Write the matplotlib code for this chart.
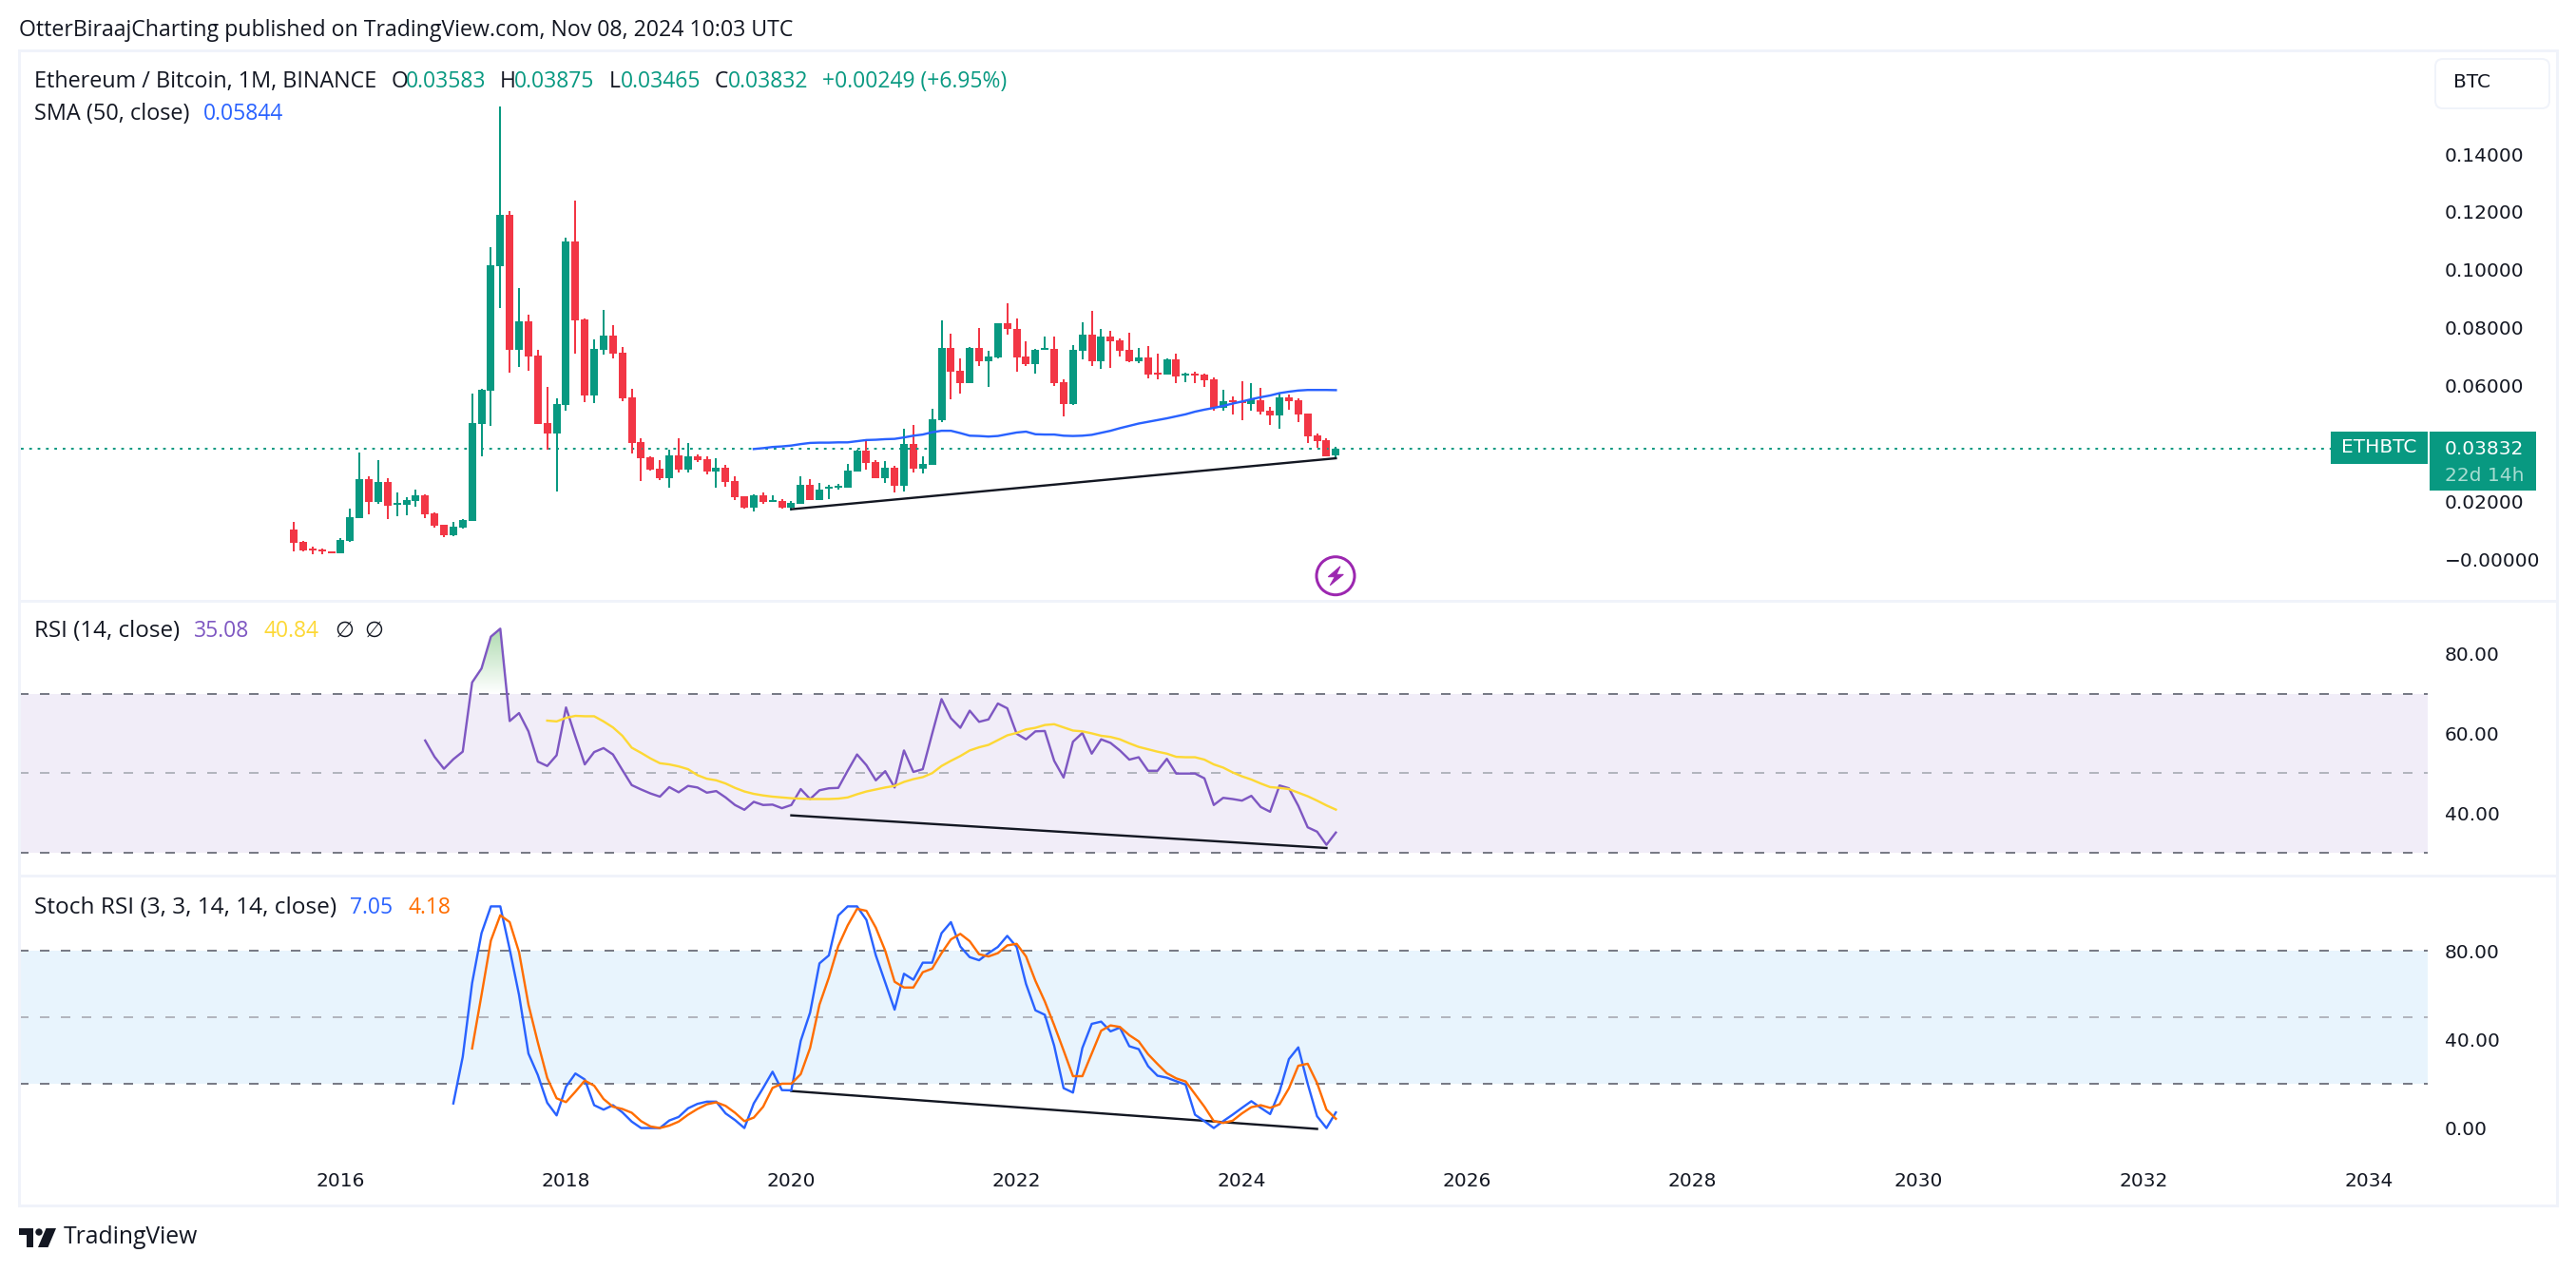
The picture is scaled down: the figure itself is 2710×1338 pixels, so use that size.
import matplotlib
matplotlib.use('Agg')
import matplotlib.pyplot as plt
from matplotlib.patches import Rectangle, FancyBboxPatch, Circle, Polygon
import numpy as np

plt.rcParams['font.family'] = ['Open Sans', 'DejaVu Sans']

# monthly candles, first one is 2015-08
opens = [.0103,.0060,.0038,.0034,.0027,.0022,.0063,.0143,.0277,.0198,
         .0267,.0189,.0189,.0203,.0221,.0159,.0119,.0083,.0109,.0134,
         .0469,.0583,.1013,.1190,.0724,.0822,.0704,.0471,.0435,.0533,
         .1098,.0829,.0566,.0724,.0773,.0714,.0559,.0405,.0352,.0313,
         .0280,.0359,.0310,.0356,.0346,.0303,.0316,.0270,.0218,.0178,
         .0221,.0198,.0201,.0178,.0192,.0257,.0205,.0244,.0247,.0247,
         .0303,.0375,.0336,.0280,.0316,.0254,.0398,.0313,.0326,.0481,
         .0730,.0651,.0609,.0730,.0684,.0697,.0816,.0796,.0701,.0674,
         .0724,.0727,.0612,.0536,.0720,.0776,.0684,.0770,.0756,.0724,
         .0684,.0697,.0645,.0638,.0691,.0635,.0642,.0638,.0622,.0523,
         .0550,.0546,.0536,.0550,.0513,.0497,.0559,.0550,.0504,.0428,
         .0412,.03583]
highs = [.0128,.0063,.0043,.0037,.0027,.0073,.0175,.0369,.0287,.0343,
         .0280,.0231,.0213,.0241,.0224,.0162,.0119,.0129,.0139,.0573,
         .0589,.1078,.1563,.1202,.0937,.0845,.0724,.0596,.0556,.1111,
         .1239,.0832,.0760,.0862,.0809,.0733,.0589,.0418,.0356,.0343,
         .0379,.0418,.0402,.0362,.0356,.0349,.0326,.0287,.0218,.0224,
         .0231,.0221,.0208,.0201,.0287,.0277,.0264,.0257,.0261,.0330,
         .0379,.0408,.0343,.0339,.0323,.0451,.0464,.0356,.0520,.0825,
         .0779,.0694,.0733,.0799,.0720,.0816,.0885,.0832,.0753,.0727,
         .0770,.0770,.0622,.0740,.0819,.0858,.0796,.0789,.0763,.0783,
         .0730,.0737,.0710,.0694,.0710,.0645,.0648,.0642,.0628,.0586,
         .0563,.0615,.0609,.0592,.0527,.0576,.0569,.0556,.0504,.0435,
         .0418,.03875]
lows = [.0027,.0027,.0019,.0019,.0022,.0022,.0060,.0143,.0155,.0192,
        .0140,.0149,.0153,.0183,.0143,.0111,.0077,.0080,.0107,.0134,
        .0356,.0461,.0868,.0645,.0664,.0651,.0467,.0379,.0234,.0513,
        .0710,.0543,.0540,.0707,.0694,.0546,.0366,.0270,.0307,.0274,
        .0247,.0300,.0300,.0336,.0293,.0247,.0251,.0205,.0175,.0165,
        .0192,.0198,.0175,.0170,.0192,.0205,.0205,.0208,.0241,.0247,
        .0303,.0310,.0280,.0264,.0231,.0234,.0300,.0297,.0326,.0474,
        .0553,.0573,.0609,.0668,.0596,.0694,.0776,.0648,.0668,.0642,
        .0724,.0599,.0494,.0533,.0691,.0668,.0658,.0661,.0701,.0681,
        .0678,.0625,.0622,.0638,.0609,.0612,.0609,.0596,.0513,.0513,
        .0500,.0481,.0513,.0500,.0464,.0451,.0517,.0474,.0402,.0385,
        .0356,.03465]
closes = [.0058,.0031,.0031,.0028,.0022,.0067,.0146,.0277,.0199,.0267,
          .0186,.0195,.0205,.0221,.0155,.0117,.0083,.0113,.0136,.0471,
          .0586,.1016,.1190,.0724,.0822,.0701,.0467,.0435,.0536,.1098,
          .0825,.0566,.0727,.0773,.0710,.0556,.0402,.0349,.0310,.0280,
          .0359,.0310,.0356,.0343,.0303,.0316,.0267,.0215,.0178,.0221,
          .0198,.0205,.0178,.0195,.0257,.0205,.0241,.0251,.0254,.0307,
          .0375,.0333,.0280,.0316,.0254,.0398,.0313,.0330,.0484,.0730,
          .0648,.0609,.0730,.0684,.0701,.0816,.0796,.0697,.0674,.0724,
          .0730,.0609,.0536,.0724,.0776,.0684,.0770,.0753,.0720,.0684,
          .0697,.0638,.0638,.0691,.0632,.0642,.0635,.0619,.0523,.0546,
          .0543,.0540,.0553,.0510,.0497,.0559,.0546,.0500,.0425,.0408,
          .0356,.03832]

sma_start = 49
sma = [.0381,.0384,.0388,.0390,.0393,.0398,.0402,.0403,.0403,.0404,
       .0404,.0408,.0412,.0413,.0415,.0416,.0421,.0427,.0431,.0439,
       .0444,.0444,.0436,.0427,.0426,.0424,.0426,.0432,.0438,.0441,
       .0432,.0431,.0431,.0427,.0426,.0427,.0430,.0437,.0444,.0453,
       .0461,.0469,.0475,.0481,.0487,.0494,.0501,.0510,.0517,.0523,
       .0530,.0538,.0545,.0553,.0560,.0566,.0574,.0579,.0583,.0585,
       .0585,.0585,.05844]

rsi_start = 14
rsi = [58.2,54.1,51.1,53.5,55.4,72.8,76.3,84.3,86.3,63.1,
       65.1,60.5,52.9,51.8,54.5,66.5,59.2,52.2,55.3,56.3,
       54.7,50.8,47.0,45.9,44.9,44.1,46.5,45.2,46.8,46.4,
       45.1,45.5,43.9,42.0,40.8,42.8,42.0,42.1,41.2,42.0,
       46.0,43.5,45.7,46.2,46.3,50.6,54.7,52.0,48.2,50.5,
       46.4,55.7,50.3,51.0,59.9,68.6,63.8,61.4,65.7,
       62.9,63.5,67.5,66.3,59.9,58.5,60.5,60.6,53.1,48.9,
       57.9,60.1,54.9,58.5,57.6,55.7,53.4,54.0,50.6,50.6,
       53.6,49.9,49.9,49.9,48.7,42.0,43.8,43.5,43.1,44.3,
       41.5,40.3,46.9,46.2,41.8,36.4,35.3,32.0,35.08]

rsi_ma_start = 27
rsi_ma = [63.2,63.0,63.9,64.4,64.3,64.3,63.0,61.5,59.4,56.4,
          55.1,53.7,52.5,52.2,51.7,51.0,49.5,48.6,48.2,47.4,
          46.3,45.4,44.8,44.4,44.1,43.9,43.7,43.6,43.5,43.5,
          43.5,43.6,43.9,44.7,45.4,45.9,46.4,46.8,47.8,48.5,
          49.0,50.0,51.8,53.1,54.3,55.7,
          56.5,57.1,58.3,59.5,60.1,61.0,61.4,62.1,62.3,61.5,
          60.7,60.5,60.0,59.4,59.1,58.5,57.5,56.6,56.0,55.4,
          54.9,54.1,54.0,54.0,53.4,52.2,51.4,50.2,49.2,48.4,
          47.4,46.5,46.3,46.0,45.1,44.2,43.1,41.9,40.84]

stoch_k_start = 17
stoch_k = [11.1,32.1,65.4,87.9,100,100,80.7,60.0,33.6,23.9,
           11.4,5.7,18.6,24.6,21.9,10.3,8.3,10.3,7.1,2.9,
           0,0,0,3.4,5.0,8.9,10.9,11.9,11.9,6.6,
           3.6,0,11.1,18.1,25.4,17.1,17.0,39.3,52.1,74.3,
           77.9,95.9,100,100,93.9,77.9,65.7,53.4,69.6,66.9,
           74.6,74.6,87.9,92.9,81.9,77.1,
           75.7,78.9,81.7,86.7,81.7,65.0,53.1,51.1,37.1,18.0,
           16.0,36.1,47.0,48.0,43.6,45.3,36.9,35.6,27.9,23.6,
           22.7,21.1,19.6,6.0,3.1,0,3.1,6.0,9.1,12.1,
           9.1,6.3,16.4,31.1,36.4,20.0,5.3,0,7.05]

stoch_d_start = 19
stoch_d = [35.9,60.0,84.6,96.0,92.9,79.3,55.7,38.6,22.6,13.4,
           11.7,16.4,21.4,19.1,13.1,9.6,8.6,6.9,3.1,0.7,
           0,1.1,2.9,6.0,8.6,10.7,11.6,10.0,6.9,3.1,
           4.7,9.6,18.1,20.0,20.0,24.3,36.1,55.7,67.9,82.1,
           91.4,98.9,98.0,90.4,80.0,66.0,63.4,63.4,70.3,71.9,
           78.9,85.1,87.6,84.3,
           78.4,77.4,78.9,82.4,83.1,77.4,66.4,57.1,46.4,35.0,
           23.4,23.4,33.6,43.9,46.3,45.6,41.9,39.1,33.3,28.9,
           24.7,22.4,21.0,15.3,9.6,3.1,2.3,3.3,6.6,9.4,
           10.3,9.1,10.7,17.9,28.1,29.0,20.3,8.3,4.18]

# drawn trend lines: (month index, value) at both ends
price_trend = ([53, 111], [.0173, .0349])
rsi_trend = ([53, 110], [39.4, 31.2])
stoch_trend = ([53, 109], [16.7, -0.4])

years = [2016, 2018, 2020, 2022, 2024, 2026, 2028, 2030, 2032, 2034]
price_ticks = [0.14, 0.12, 0.10, 0.08, 0.06, 0.02, 0.0]
rsi_ticks = [80, 60, 40]
stoch_ticks = [80, 40, 0]

GREEN = '#089981'
RED = '#F23645'
BLUE = '#2962FF'
PURPLE = '#7E57C2'
YELLOW = '#FDD835'
ORANGE = '#FF6D00'
DARK = '#131722'
BORDER = '#F0F3FA'
AXIS_FONT = 'DejaVu Sans'

W, H = 2710, 1338
PX = 0.72  # one pixel in points at dpi 100
LINE = 2.4 * PX
LEFT, RIGHT = 22, 2554


def panel(top, bottom, ylim):
    ax = fig.add_axes([LEFT / W, 1 - bottom / H, (RIGHT - LEFT) / W, (bottom - top) / H])
    ax.set_xlim(-29.06, 227.3)
    ax.set_ylim(*ylim)
    for s in ax.spines.values():
        s.set_visible(False)
    ax.yaxis.tick_right()
    ax.tick_params(axis='y', length=0, pad=13, labelsize=14.5, labelcolor=DARK)
    ax.set_xticks([])
    return ax


def set_ylabels(ax, ticks, labels):
    ax.set_yticks(ticks)
    ax.set_yticklabels(labels, family=AXIS_FONT)


def band(ax, low, mid, high, color):
    ax.axhspan(low, high, color=color, alpha=0.1, lw=0)
    for v, c in [(low, '#787B86'), (mid, '#B2B5BE'), (high, '#787B86')]:
        ax.axhline(v, color=c, lw=2 * PX, ls=(1, (5, 6)))


fig = plt.figure(figsize=(W / 100, H / 100), dpi=100, facecolor='white')

# price panel
ax = panel(54, 632, (-0.01435, 0.17549))
x = np.arange(len(opens))
o, h, l, c = map(np.array, (opens, highs, lows, closes))
colors = [GREEN if cl >= op else RED for op, cl in zip(o, c)]
ax.vlines(x, l, h, colors=colors, lw=2 * PX)
ax.bar(x, np.abs(c - o), bottom=np.minimum(o, c), width=0.81, color=colors, lw=0)
ax.axhline(closes[-1], color=GREEN, lw=2 * PX, ls=(0, (1.4, 3)), zorder=1)
ax.plot(np.arange(len(sma)) + sma_start, sma, color=BLUE, lw=LINE)
ax.plot(*price_trend, color=DARK, lw=LINE)
set_ylabels(ax, price_ticks, ['%.5f' % t for t in price_ticks[:-1]] + ['\u22120.00000'])

# RSI panel
ax = panel(632, 921, (24.27, 93.3))
band(ax, 30, 50, 70, PURPLE)
rsi_x = np.arange(len(rsi)) + rsi_start
# gradient above the 70 line
fill = ax.fill_between(rsi_x, rsi, 70, where=np.array(rsi) > 70, interpolate=True, color='none')
grad = np.zeros((64, 2, 4))
grad[..., :3] = matplotlib.colors.to_rgb('#4CAF50')
grad[..., 3] = np.linspace(0.45, 0, 64)[:, None]
img = ax.imshow(grad, extent=[rsi_x[0], rsi_x[-1], 70, max(rsi)], aspect='auto', zorder=1)
img.set_clip_path(fill.get_paths()[0], transform=ax.transData)
ax.set_xlim(-29.06, 227.3)
ax.set_ylim(24.27, 93.3)
ax.plot(rsi_x, rsi, color=PURPLE, lw=LINE, zorder=3)
ax.plot(np.arange(len(rsi_ma)) + rsi_ma_start, rsi_ma, color=YELLOW, lw=LINE, zorder=3)
ax.plot(*rsi_trend, color=DARK, lw=LINE, zorder=3)
set_ylabels(ax, rsi_ticks, ['%.2f' % t for t in rsi_ticks])

# stoch RSI panel, carries the time axis
ax = panel(921, 1215, (-12.2, 113.9))
band(ax, 20, 50, 80, '#2196F3')
ax.plot(*stoch_trend, color=DARK, lw=LINE)
ax.plot(np.arange(len(stoch_k)) + stoch_k_start, stoch_k, color=BLUE, lw=LINE)
ax.plot(np.arange(len(stoch_d)) + stoch_d_start, stoch_d, color=ORANGE, lw=LINE)
set_ylabels(ax, stoch_ticks, ['%.2f' % t for t in stoch_ticks])
ax.set_xticks([(y - 2016) * 12 + 5 for y in years])
ax.set_xticklabels([str(y) for y in years], family=AXIS_FONT, weight='medium')
ax.tick_params(axis='x', length=0, pad=13, labelsize=14.5, labelcolor=DARK)

# everything that is page furniture goes on an overlay in pixel coordinates
ov = fig.add_axes([0, 0, 1, 1], zorder=10)
ov.set_xlim(0, W)
ov.set_ylim(H, 0)
ov.axis('off')


def label(px, py, s, color=DARK, size=16.5, **kw):
    kw.setdefault('va', 'center')
    ov.text(px, py, s, color=color, fontsize=size, **kw)


for y0, y1, x0, x1 in [(53, 53, 20, 2690), (632, 632, 20, 2690), (921, 921, 20, 2690), (1268, 1268, 20, 2690),
                       (53, 1268, 20, 20), (53, 1268, 2690, 2690)]:
    ov.plot([x0, x1], [y0, y1], color=BORDER, lw=3 * PX, solid_capstyle='projecting')

label(20, 32, 'OtterBiraajCharting published on TradingView.com, Nov 08, 2024 10:03 UTC', size=16.7)

label(36, 86, 'Ethereum / Bitcoin, 1M, BINANCE', size=16.8)
for px, s in [(412, 'O'), (526, 'H'), (641, 'L'), (752, 'C')]:
    label(px, 86, s)
for px, s in [(427, '0.03583'), (541, '0.03875'), (653, '0.03465'), (766, '0.03832'), (865, '+0.00249 (+6.95%)')]:
    label(px, 86, s, GREEN)
label(36, 120, 'SMA (50, close)', size=16.9)
label(214, 120, '0.05844', BLUE)

label(36, 664, 'RSI (14, close)', size=17.4)
label(204, 664, '35.08', PURPLE)
label(277, 664, '40.84', YELLOW)
label(352, 664, '\u2205')
label(383, 664, '\u2205')

label(36, 955, 'Stoch RSI (3, 3, 14, 14, close)', size=17.6)
label(368, 955, '7.05', BLUE)
label(430, 955, '4.18', ORANGE)

# currency button
ov.add_patch(FancyBboxPatch((2566, 66), 112, 44, boxstyle='round,pad=4,rounding_size=8',
                            fc='white', ec=BORDER, lw=2 * PX))
label(2581, 87, 'BTC', family=AXIS_FONT, size=14.5)

# last price tags
ov.add_patch(Rectangle((2452, 454), 102, 33.5, fc=GREEN, lw=0))
label(2503, 471, 'ETHBTC', 'white', ha='center', family=AXIS_FONT, size=14.5)
ov.add_patch(Rectangle((2556, 454), 112, 61.6, fc=GREEN, lw=0))
label(2572, 472, '0.03832', 'white', family=AXIS_FONT, size=14.5)
label(2572, 500, '22d 14h', '#A8DDD2', family=AXIS_FONT, size=14.5)

# lightning badge
ov.add_patch(Circle((1405, 605.7), 20, fc='white', ec='#9C27B0', lw=3 * PX))
ov.add_patch(Polygon([(1410, 595.7), (1397.3, 606.7), (1404.3, 606.7), (1399.3, 615.7),
                      (1413.3, 604.3), (1406, 604.3)], fc='#9C27B0', ec='#9C27B0', lw=1 * PX))

# TradingView logo
ov.add_patch(Polygon([(20, 1292), (35, 1292), (35, 1312), (27.5, 1312), (27.5, 1299), (20, 1299)], fc=DARK, lw=0))
ov.add_patch(Circle((41, 1296), 3.7, fc=DARK, lw=0))
ov.add_patch(Polygon([(48.5, 1292), (59, 1292), (50.5, 1312), (40, 1312)], fc=DARK, lw=0))
label(67, 1302, 'TradingView', size=17.8)

fig.savefig('out.png', dpi=100)
